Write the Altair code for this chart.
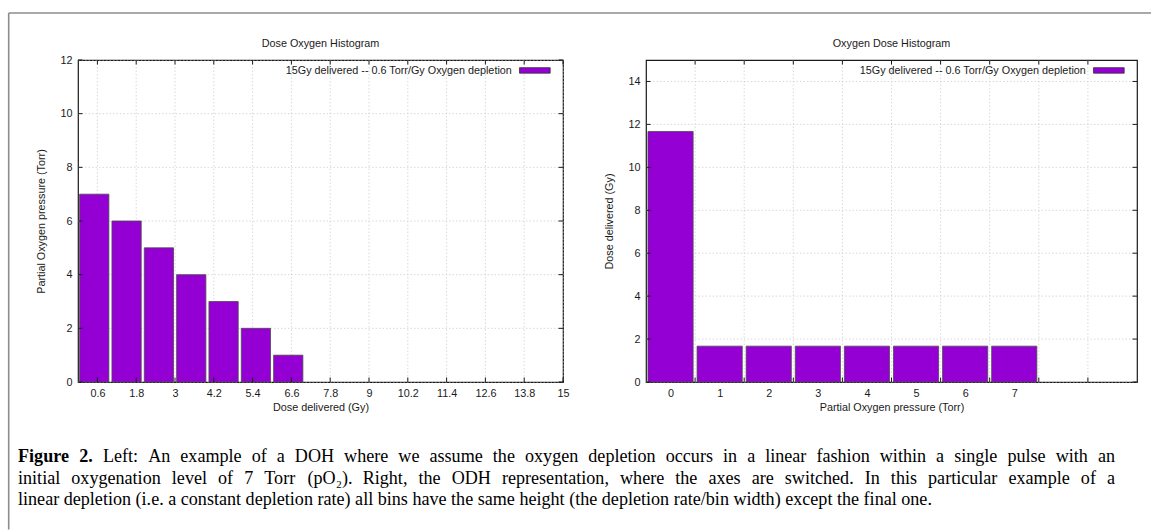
import altair as alt
import pandas as pd

# ---- left panel: dose-oxygen histogram (DOH) ----
dose_bin_start = [0, 1, 2, 3, 4, 5, 6]           # Gy, lower edge of each dose bin
oxygen_torr = [7, 6, 5, 4, 3, 2, 1]              # pO2 remaining in each bin
dose_ticks = [0.6, 1.8, 3, 4.2, 5.4, 6.6, 7.8, 9, 10.2, 11.4, 12.6, 13.8, 15]
left_y_ticks = [0, 2, 4, 6, 8, 10, 12]

# ---- right panel: oxygen-dose histogram (ODH) ----
pressure_bins = [0, 1, 2, 3, 4, 5, 6, 7]         # Torr
dose_gy = [11.67, 1.67, 1.67, 1.67, 1.67, 1.67, 1.67, 1.67]
pressure_edges = [0.5, 1.5, 2.5, 3.5, 4.5, 5.5, 6.5, 7.5, 8.5]
right_y_ticks = [0, 2, 4, 6, 8, 10, 12, 14]

legend_label = "15Gy delivered -- 0.6 Torr/Gy Oxygen depletion"
titles = ["Dose Oxygen Histogram", "Oxygen Dose Histogram"]
caption_head = "Figure 2."
caption_lines = [
    "Left: An example of a DOH where we assume the oxygen depletion occurs in a linear fashion within a single pulse with an",
    "initial oxygenation level of 7 Torr (pO\u2082). Right, the ODH representation, where the axes are switched. In this particular example of a",
    "linear depletion (i.e. a constant depletion rate) all bins have the same height (the depletion rate/bin width) except the final one.",
]

PURPLE = "#9400D3"
INK = "#1a1a1a"
GRID = "#cfcfcf"
SANS = "Liberation Sans"
SERIF = "Liberation Serif"
FS = 10.8
H = 322
WL = 485
WR = 491
TICK = 4.5


def one():
    return pd.DataFrame({"k": [0]})


def panel(width, xdom, ydom, xgrid, xlabels, ygrid, bars, xtitle, ytitle, title):
    xs = alt.Scale(domain=xdom, nice=False, zero=False)
    ys = alt.Scale(domain=ydom, nice=False, zero=False)
    gx = pd.DataFrame({"v": xgrid})
    gy = pd.DataFrame({"v": ygrid})
    xaxis = alt.Axis(values=xlabels, title=xtitle, labelExpr="'' + datum.value", labelPadding=5,
                     titlePadding=4, labelFlush=False, labelOverlap=False)
    yaxis = alt.Axis(values=ygrid, title=ytitle, labelPadding=6, titlePadding=13.5,
                     labelFlush=False)

    rects = alt.Chart(bars).mark_rect(color=PURPLE, stroke="#4a4a4a", strokeWidth=0.8).encode(
        x=alt.X("lo:Q", scale=xs, axis=xaxis), x2="hi:Q",
        y=alt.Y("val:Q", scale=ys, axis=yaxis), y2=alt.datum(0),
    )
    grid_x = alt.Chart(gx).mark_rule(color=GRID, strokeDash=[1.5, 2], strokeWidth=0.8).encode(
        x=alt.X("v:Q", scale=xs, axis=xaxis), y=alt.value(0), y2=alt.value(H),
    )
    grid_y = alt.Chart(gy).mark_rule(color=GRID, strokeDash=[1.5, 2], strokeWidth=0.8).encode(
        y=alt.Y("v:Q", scale=ys, axis=yaxis), x=alt.value(0), x2=alt.value(width),
    )
    tick_style = dict(color=INK, strokeWidth=1)
    xt_bottom = alt.Chart(gx).mark_rule(**tick_style).encode(
        x=alt.X("v:Q", scale=xs, axis=xaxis), y=alt.value(H - TICK), y2=alt.value(H))
    xt_top = alt.Chart(gx).mark_rule(**tick_style).encode(
        x=alt.X("v:Q", scale=xs, axis=xaxis), y=alt.value(0), y2=alt.value(TICK))
    yt_left = alt.Chart(gy).mark_rule(**tick_style).encode(
        y=alt.Y("v:Q", scale=ys, axis=yaxis), x=alt.value(0), x2=alt.value(TICK))
    yt_right = alt.Chart(gy).mark_rule(**tick_style).encode(
        y=alt.Y("v:Q", scale=ys, axis=yaxis), x=alt.value(width - TICK), x2=alt.value(width))

    key_box = alt.Chart(one()).mark_rect(color=PURPLE, stroke="#333", strokeWidth=0.8).encode(
        x=alt.value(width - 43.5), x2=alt.value(width - 12.8),
        y=alt.value(7.7), y2=alt.value(13.2))
    key_text = alt.Chart(pd.DataFrame({"t": [legend_label]})).mark_text(
        align="right", baseline="middle", font=SANS, fontSize=FS, color=INK).encode(
        x=alt.value(width - 51.2), y=alt.value(10.7), text="t:N")
    head = alt.Chart(pd.DataFrame({"t": [title]})).mark_text(
        align="center", baseline="middle", font=SANS, fontSize=FS, color=INK).encode(
        x=alt.value(width / 2), y=alt.value(-16.3), text="t:N")

    return [grid_x, grid_y, rects, xt_bottom, xt_top, yt_left, yt_right, key_box, key_text, head]


left_bars = pd.DataFrame({"start": dose_bin_start, "val": oxygen_torr})
left_bars["lo"] = left_bars["start"] + 0.05
left_bars["hi"] = left_bars["start"] + 0.955

right_bars = pd.DataFrame({"p": pressure_bins, "val": dose_gy})
right_bars["lo"] = right_bars["p"] - 0.46
right_bars["hi"] = right_bars["p"] + 0.46

left_layers = panel(WL, [0, 15], [0, 12], dose_ticks, dose_ticks, left_y_ticks, left_bars,
                    "Dose delivered (Gy)", "Partial Oxygen pressure (Torr)", titles[0])
right_layers = panel(WR, [-0.5, 9.5], [0, 15], pressure_edges, pressure_bins, right_y_ticks, right_bars,
                     "Partial Oxygen pressure (Torr)", "Dose delivered (Gy)", titles[1])

# figure frame (top and left edges), positioned from the left plot's origin
frame_color = "#8c8c8c"
frame_top = alt.Chart(one()).mark_rule(color=frame_color, strokeWidth=1.6).encode(
    x=alt.value(-69.3), x2=alt.value(1073), y=alt.value(-47))
frame_left = alt.Chart(one()).mark_rule(color=frame_color, strokeWidth=1.6).encode(
    x=alt.value(-69.3), y=alt.value(-47), y2=alt.value(469.5))

# ---- caption, typeset as a justified paragraph (Times advance widths, 1/1000 em) ----
_W = {" ": 250, "(": 333, ")": 333, ",": 250, "-": 333, ".": 250, "/": 278, ":": 278,
      "\u2082": 300}
_W.update({d: 500 for d in "0123456789"})
_W.update(dict(zip("ABCDEFGHIJKLMNOPQRSTUVWXYZ",
                   [722, 667, 667, 722, 611, 556, 722, 722, 333, 389, 722, 611, 889,
                    722, 722, 556, 722, 667, 556, 611, 722, 722, 944, 722, 722, 611])))
_W.update(dict(zip("abcdefghijklmnopqrstuvwxyz",
                   [444, 500, 444, 500, 444, 333, 500, 500, 278, 278, 500, 278, 778,
                    500, 500, 500, 500, 333, 389, 278, 500, 500, 722, 500, 500, 444])))
_WB = dict(_W)
_WB.update({"F": 611, "u": 556, "r": 444})

CAP_FS = 18.1
CAP_LEFT = -60          # relative to the left plot's origin
CAP_RIGHT = 1037
CAP_Y = [397, 419, 440]


def text_width(s, bold=False):
    table = _WB if bold else _W
    return sum(table.get(c, 500) for c in s) * CAP_FS / 1000.0


def word_mark(word, x, y, bold=False):
    return alt.Chart(pd.DataFrame({"t": [word]})).mark_text(
        align="left", baseline="middle", font=SERIF, fontSize=CAP_FS,
        fontWeight="bold" if bold else "normal", color="#000").encode(
        x=alt.value(round(x, 2)), y=alt.value(y), text="t:N")


cap = []
justified = [(caption_head.split(), caption_lines[0].split()), ([], caption_lines[1].split())]
for row, (bold_words, words) in enumerate(justified):
    items = [(w, True) for w in bold_words] + [(w, False) for w in words]
    total = sum(text_width(w, b) for w, b in items)
    gap = (CAP_RIGHT - CAP_LEFT - total) / (len(items) - 1)
    x = CAP_LEFT
    for w, b in items:
        cap.append(word_mark(w, x, CAP_Y[row], b))
        x += text_width(w, b) + gap
cap.append(word_mark(caption_lines[2], CAP_LEFT, CAP_Y[2]))

left = alt.layer(*left_layers, frame_top, frame_left, *cap).properties(width=WL, height=H)
right = alt.layer(*right_layers).properties(width=WR, height=H)

chart = alt.hconcat(left, right, spacing=83, bounds="flush").properties(
    padding={"left": 7, "top": 11, "right": 0, "bottom": 0}
).configure(background="white", font=SANS).configure_view(
    stroke=INK, strokeWidth=1.2
).configure_axis(
    labelFont=SANS, labelFontSize=FS, labelColor=INK,
    titleFont=SANS, titleFontSize=FS, titleFontWeight="normal", titleColor=INK,
    grid=False, ticks=False, tickSize=0, domain=False,
)

chart.save("out.html", embed_options={"renderer": "svg", "actions": False})
